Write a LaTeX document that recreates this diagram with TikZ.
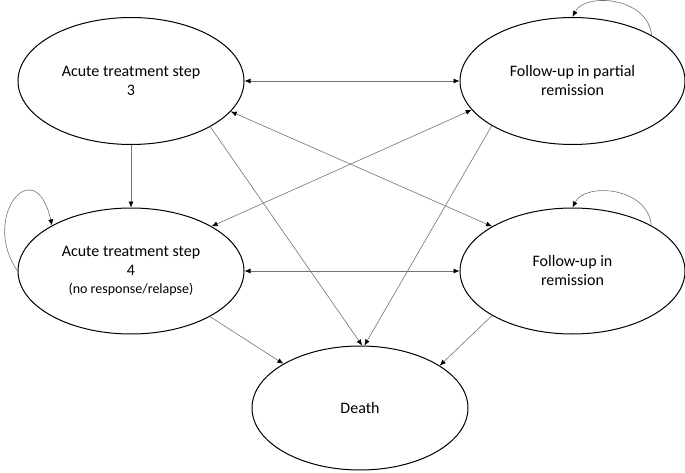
\documentclass[tikz,border=0pt]{standalone}
\usepackage{fontspec}
\setmainfont{Carlito}
\usetikzlibrary{shapes.geometric,arrows.meta}
\begin{document}
\begin{tikzpicture}[x=1pt,y=1pt,
  state/.style={ellipse,draw=black,line width=1pt,inner sep=0pt,align=center,
    font=\fontsize{16}{19}\selectfont},
  tip/.tip={Latex[length=6pt,width=5pt,color=black]},
  conn/.style={draw=black!55,line width=0.6pt,-tip},
  biconn/.style={draw=black!55,line width=0.6pt,tip-tip}]
\useasboundingbox (0,0) rectangle (685,472);

\node[state,minimum width=226pt,minimum height=127pt] (e1) at (131,391) {Acute treatment step\\3};
\node[state,minimum width=225pt,minimum height=127pt] (e2) at (572.5,391) {Follow-up in partial\\remission};
\node[state,minimum width=226pt,minimum height=126pt] (e3) at (131,201) {Acute treatment step\\4\\[-1pt]{\fontsize{14}{16}\selectfont (no response/relapse)}};
\node[state,minimum width=225pt,minimum height=126pt] (e4) at (572.5,201) {Follow-up in\\remission};
\node[state,minimum width=216pt,minimum height=124pt] (e5) at (360,64) {Death};

% bidirectional
\draw[biconn] (e1.east) -- (e2.west);
\draw[biconn] (e3.east) -- (e4.west);
\draw[biconn] (e1.-17.4) -- (e4.151.4);
\draw[biconn] (e3.29.4) -- (e2.196.3);

% one-way
\draw[conn] (e1.south) -- (e3.north);
\draw[conn] (e1.-30.2) -- (e5.88.2);
\draw[conn] (e2.209.7) -- (e5.86.4);
\draw[conn] (e3.-30.2) -- (e5.150);
\draw[conn] (e4.209.7) -- (e5.28.4);

% self loops
\draw[conn] (e2.30) .. controls (648,475) and (585,480) .. (e2.90);
\draw[conn] (e4.30) .. controls (648,285) and (585,290) .. (e4.90);
\draw[conn] (e3.180) .. controls (-20,255) and (35,322) .. (e3.150.9);
\end{tikzpicture}
\end{document}
